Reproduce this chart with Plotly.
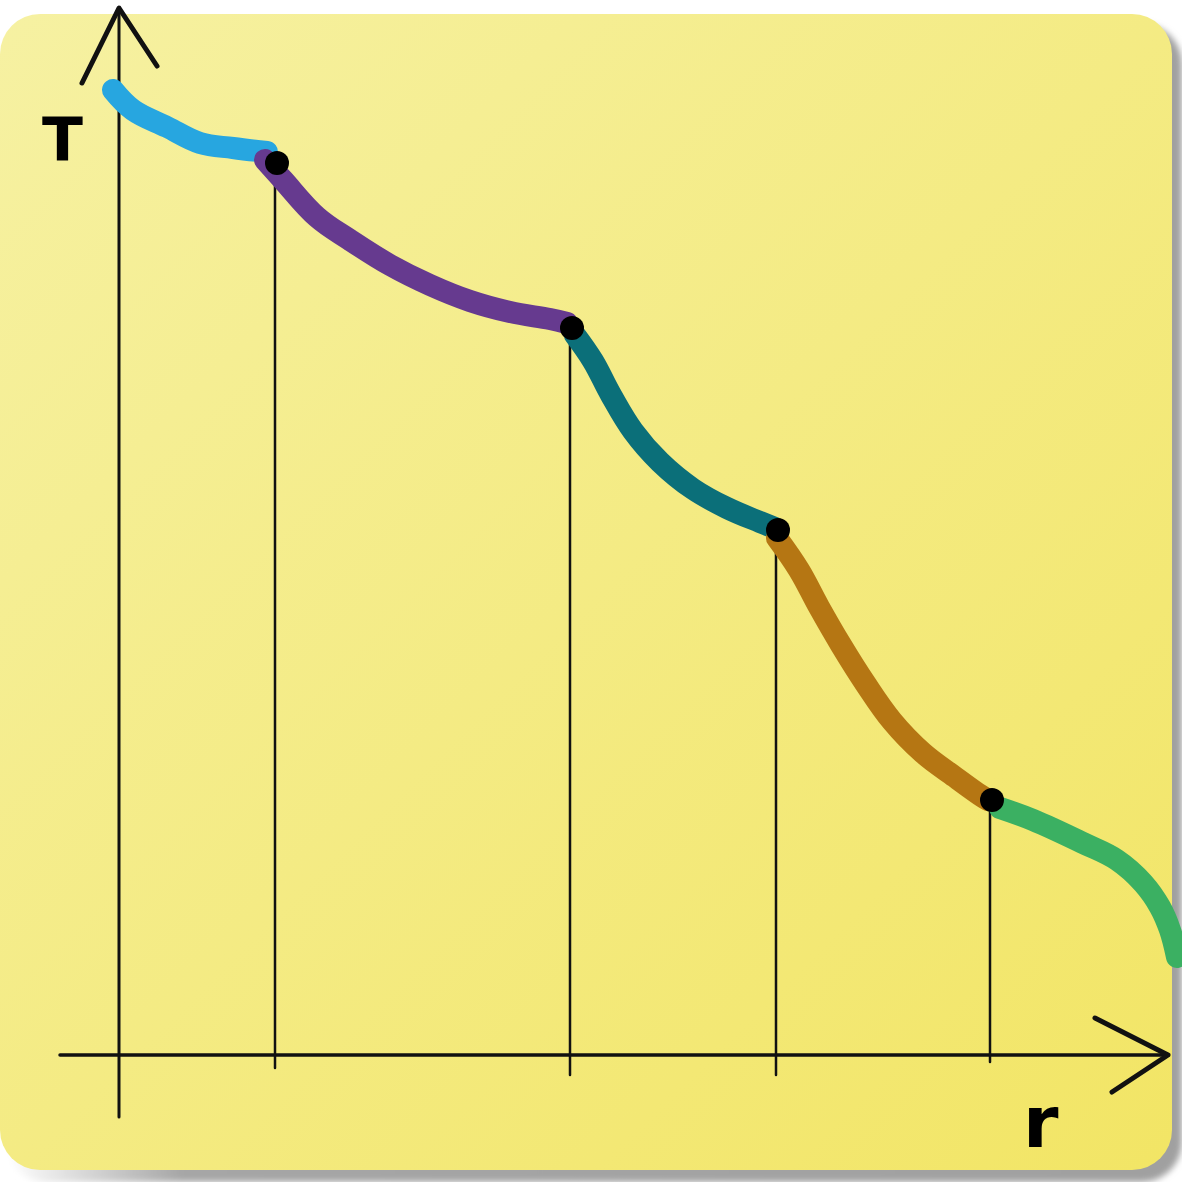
import plotly.graph_objects as go
import urllib.parse

# ---- data (r to the right, T upward; origin where the axes cross) ----
seg1_r = [-6, 14, 48, 81, 114, 148]
seg1_T = [965, 945, 928, 912, 907, 903]
seg2_r = [146, 164, 198, 231, 271, 311, 351, 391, 431, 448]
seg2_T = [895, 875, 838, 815, 790, 770, 754, 743, 736, 732]
seg3_r = [456, 474, 492, 514, 541, 574, 608, 641, 656]
seg3_T = [720, 694, 660, 624, 593, 566, 547, 533, 527]
seg4_r = [658, 680, 700, 722, 746, 773, 804, 836, 861, 869]
seg4_T = [517, 485, 448, 410, 372, 334, 302, 278, 260, 255]
seg5_r = [881, 914, 964, 998, 1024, 1041, 1051, 1058]
seg5_T = [247, 235, 212, 195, 172, 148, 125, 98]

junction_r = [158, 453, 659, 873]
junction_T = [892, 727, 525, 255]
drop_bottom_T = [-13, -20, -20, -7]

seg_colors = ["#27a6e0", "#663a8f", "#0b6f79", "#b57613", "#3bb062"]

# axes extents
yaxis_line_T = [1047, -62]
xaxis_line_r = [-59, 1049]
yarrow_r = [-37, 0, 38]
yarrow_T = [972, 1047, 989]
xarrow_r = [976, 1049, 993]
xarrow_T = [37, 0, -37]

X_RANGE = [-119, 1063]
Y_RANGE = [-127, 1055]

fig = go.Figure()

# background card as an SVG image (gradient + shadow)
svg = (
    '<svg xmlns="http://www.w3.org/2000/svg" width="1182" height="1182" viewBox="0 0 1182 1182">'
    '<defs>'
    '<linearGradient id="g" x1="0" y1="0" x2="1" y2="1">'
    '<stop offset="0" stop-color="#f6f1a2"/>'
    '<stop offset="1" stop-color="#f2e565"/>'
    '</linearGradient>'
    '<linearGradient id="s" x1="0" y1="0" x2="1" y2="0">'
    '<stop offset="0" stop-color="#ffffff"/>'
    '<stop offset="0.15" stop-color="#a6a6a6"/>'
    '<stop offset="1" stop-color="#a0a0a0"/>'
    '</linearGradient>'
    '<filter id="b" x="-5%" y="-5%" width="110%" height="110%"><feGaussianBlur stdDeviation="3"/></filter>'
    '</defs>'
    '<rect x="0" y="0" width="1182" height="1182" fill="#ffffff"/>'
    '<rect x="6" y="24" width="1176" height="1158" rx="40" ry="40" fill="url(#s)" filter="url(#b)"/>'
    '<rect x="0" y="14" width="1172" height="1156" rx="40" ry="40" fill="url(#g)"/>'
    '</svg>'
)
fig.add_layout_image(
    source="data:image/svg+xml;charset=utf-8," + urllib.parse.quote(svg),
    xref="paper", yref="paper", x=0, y=1, sizex=1, sizey=1,
    sizing="stretch", layer="below", xanchor="left", yanchor="top",
)

# axes
fig.add_trace(go.Scatter(x=[0, 0], y=yaxis_line_T, mode="lines",
                         line=dict(color="#111", width=3), hoverinfo="skip"))
fig.add_trace(go.Scatter(x=xaxis_line_r, y=[0, 0], mode="lines",
                         line=dict(color="#111", width=3.5), hoverinfo="skip"))
fig.add_trace(go.Scatter(x=yarrow_r, y=yarrow_T, mode="lines",
                         line=dict(color="#111", width=5), hoverinfo="skip"))
fig.add_trace(go.Scatter(x=xarrow_r, y=xarrow_T, mode="lines",
                         line=dict(color="#111", width=5), hoverinfo="skip"))

# drop lines
for r, t, b in zip(junction_r, junction_T, drop_bottom_T):
    fig.add_trace(go.Scatter(x=[r - 2, r - 2], y=[t, b], mode="lines",
                             line=dict(color="#111", width=2.5), hoverinfo="skip"))

# curve segments
segs = [(seg1_r, seg1_T), (seg2_r, seg2_T), (seg3_r, seg3_T), (seg4_r, seg4_T), (seg5_r, seg5_T)]
for (rr, tt), c in zip(segs, seg_colors):
    fig.add_trace(go.Scatter(x=rr, y=tt, mode="lines",
                             line=dict(color=c, width=22, shape="spline", smoothing=1.1),
                             hoverinfo="skip"))

# junction dots
fig.add_trace(go.Scatter(x=junction_r, y=junction_T, mode="markers",
                         marker=dict(color="#000", size=24), hoverinfo="skip"))

# labels
fig.add_annotation(x=-57, y=915, text="<b>T</b>", showarrow=False,
                   font=dict(family="DejaVu Sans", size=60, color="#000"))
fig.add_annotation(x=922, y=-67, text="<b>r</b>", showarrow=False,
                   font=dict(family="DejaVu Sans", size=72, color="#000"))

fig.update_layout(
    width=1182, height=1182,
    margin=dict(l=0, r=0, t=0, b=0),
    paper_bgcolor="#ffffff", plot_bgcolor="rgba(0,0,0,0)",
    showlegend=False,
    xaxis=dict(range=X_RANGE, visible=False, fixedrange=True),
    yaxis=dict(range=Y_RANGE, visible=False, fixedrange=True),
)

post = (
    "document.body.style.margin='0';document.body.style.overflow='hidden';"
    "var st=document.createElement('style');"
    "st.textContent='.js-line{stroke-linecap:round;stroke-linejoin:round}';"
    "document.head.appendChild(st);"
)
fig.write_html("out.html", config={"displayModeBar": False, "staticPlot": True}, post_script=post)
